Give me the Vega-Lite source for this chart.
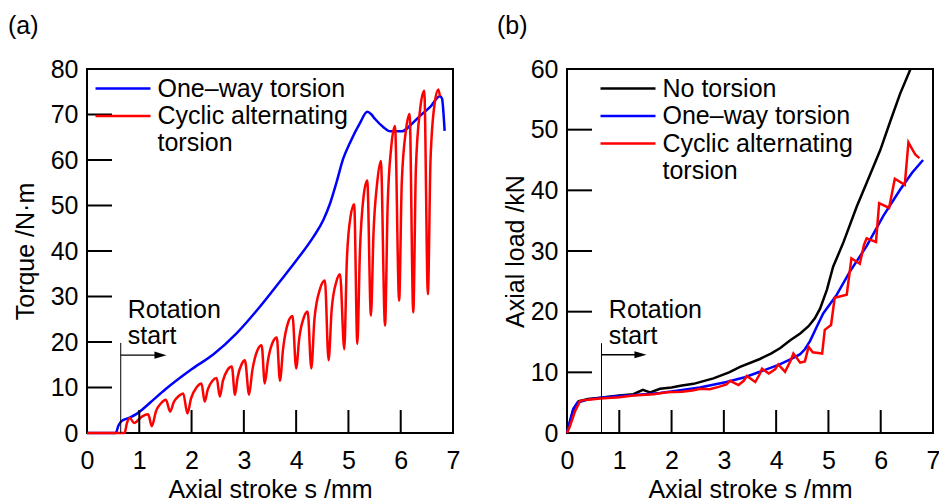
{
  "$schema": "https://vega.github.io/schema/vega-lite/v6.json",
  "background": "white",
  "padding": {"left": 7, "top": 13, "right": 0, "bottom": 0},
  "spacing": 114,
  "bounds": "flush",
  "resolve": {"scale": {"color": "independent"}, "legend": {"color": "independent"}},
  "config": {
    "font": "Liberation Sans",
    "view": {"stroke": "black", "strokeWidth": 2},
    "axis": {"domain": false, "grid": false, "ticks": false, "labelColor": "black", "titleColor": "black", "labelFontSize": 25, "titleFontSize": 25, "titleFontWeight": "normal", "labelFont": "Liberation Sans", "titleFont": "Liberation Sans", "labelFlush": false, "format": "d"},
    "axisX": {"labelPadding": 15, "titlePadding": 4},
    "axisY": {"labelPadding": 9, "titlePadding": 12},
    "legend": {"orient": "none", "labelFontSize": 25, "labelColor": "black", "labelFont": "Liberation Sans", "labelLimit": 500, "symbolType": "M-2.5,0H2.5", "symbolSize": 484, "symbolStrokeWidth": 2.5, "labelOffset": 22, "rowPadding": 1.5, "padding": 0},
    "title": {"anchor": "start", "fontSize": 25, "fontWeight": "normal", "color": "black", "font": "Liberation Sans", "frame": "group", "offset": 18}
  },
  "hconcat": [
    {
      "width": 366, "height": 364,
      "title": {"text": "(a)", "dx": -79},
      "layer": [
        {
          "data": {"values": [
            {"series": "One–way torsion", "s": 0, "T": 0},
            {"series": "One–way torsion", "s": 0.55, "T": 0},
            {"series": "One–way torsion", "s": 0.6, "T": 1.6},
            {"series": "One–way torsion", "s": 0.66, "T": 2.6},
            {"series": "One–way torsion", "s": 0.8, "T": 3.3},
            {"series": "One–way torsion", "s": 0.95, "T": 4.2},
            {"series": "One–way torsion", "s": 1.2, "T": 6.6},
            {"series": "One–way torsion", "s": 1.5, "T": 9.6},
            {"series": "One–way torsion", "s": 2.0, "T": 14.0},
            {"series": "One–way torsion", "s": 2.42, "T": 17.3},
            {"series": "One–way torsion", "s": 2.86, "T": 21.9},
            {"series": "One–way torsion", "s": 3.31, "T": 27.8},
            {"series": "One–way torsion", "s": 3.69, "T": 33.3},
            {"series": "One–way torsion", "s": 4.01, "T": 38.0},
            {"series": "One–way torsion", "s": 4.33, "T": 43.1},
            {"series": "One–way torsion", "s": 4.52, "T": 46.8},
            {"series": "One–way torsion", "s": 4.65, "T": 50.5},
            {"series": "One–way torsion", "s": 4.77, "T": 55.0},
            {"series": "One–way torsion", "s": 4.9, "T": 60.3},
            {"series": "One–way torsion", "s": 5.03, "T": 63.8},
            {"series": "One–way torsion", "s": 5.22, "T": 68.1},
            {"series": "One–way torsion", "s": 5.36, "T": 70.6},
            {"series": "One–way torsion", "s": 5.44, "T": 70.0},
            {"series": "One–way torsion", "s": 5.51, "T": 69.0},
            {"series": "One–way torsion", "s": 5.67, "T": 67.2},
            {"series": "One–way torsion", "s": 5.8, "T": 66.3},
            {"series": "One–way torsion", "s": 6.02, "T": 66.3},
            {"series": "One–way torsion", "s": 6.21, "T": 67.9},
            {"series": "One–way torsion", "s": 6.37, "T": 69.7},
            {"series": "One–way torsion", "s": 6.56, "T": 71.6},
            {"series": "One–way torsion", "s": 6.75, "T": 74.0},
            {"series": "One–way torsion", "s": 6.79, "T": 73.5},
            {"series": "One–way torsion", "s": 6.82, "T": 70.0},
            {"series": "One–way torsion", "s": 6.84, "T": 66.4},
            {"series": "Cyclic alternating torsion", "s": 0, "T": 0},
            {"series": "Cyclic alternating torsion", "s": 0.72, "T": 0},
            {"series": "Cyclic alternating torsion", "s": 0.76, "T": 2.0},
            {"series": "Cyclic alternating torsion", "s": 0.82, "T": 3.3},
            {"series": "Cyclic alternating torsion", "s": 0.9, "T": 2.2},
            {"series": "Cyclic alternating torsion", "s": 1.05, "T": 3.6},
            {"series": "Cyclic alternating torsion", "s": 1.17, "T": 4.1},
            {"series": "Cyclic alternating torsion", "s": 1.24, "T": 1.5},
            {"series": "Cyclic alternating torsion", "s": 1.32, "T": 4.8},
            {"series": "Cyclic alternating torsion", "s": 1.42, "T": 6.6},
            {"series": "Cyclic alternating torsion", "s": 1.51, "T": 7.3},
            {"series": "Cyclic alternating torsion", "s": 1.59, "T": 4.7},
            {"series": "Cyclic alternating torsion", "s": 1.66, "T": 6.8},
            {"series": "Cyclic alternating torsion", "s": 1.76, "T": 8.2},
            {"series": "Cyclic alternating torsion", "s": 1.84, "T": 8.7},
            {"series": "Cyclic alternating torsion", "s": 1.92, "T": 4.3},
            {"series": "Cyclic alternating torsion", "s": 1.99, "T": 7.6},
            {"series": "Cyclic alternating torsion", "s": 2.1, "T": 10.1},
            {"series": "Cyclic alternating torsion", "s": 2.19, "T": 10.9},
            {"series": "Cyclic alternating torsion", "s": 2.25, "T": 6.9},
            {"series": "Cyclic alternating torsion", "s": 2.31, "T": 9.6},
            {"series": "Cyclic alternating torsion", "s": 2.4, "T": 11.5},
            {"series": "Cyclic alternating torsion", "s": 2.48, "T": 12.1},
            {"series": "Cyclic alternating torsion", "s": 2.54, "T": 8.0},
            {"series": "Cyclic alternating torsion", "s": 2.6, "T": 11.5},
            {"series": "Cyclic alternating torsion", "s": 2.69, "T": 13.9},
            {"series": "Cyclic alternating torsion", "s": 2.77, "T": 14.6},
            {"series": "Cyclic alternating torsion", "s": 2.83, "T": 8.4},
            {"series": "Cyclic alternating torsion", "s": 2.88, "T": 12.2},
            {"series": "Cyclic alternating torsion", "s": 2.96, "T": 15.2},
            {"series": "Cyclic alternating torsion", "s": 3.02, "T": 16.0},
            {"series": "Cyclic alternating torsion", "s": 3.1, "T": 8.4},
            {"series": "Cyclic alternating torsion", "s": 3.16, "T": 13.6},
            {"series": "Cyclic alternating torsion", "s": 3.26, "T": 18.2},
            {"series": "Cyclic alternating torsion", "s": 3.34, "T": 19.3},
            {"series": "Cyclic alternating torsion", "s": 3.4, "T": 10.9},
            {"series": "Cyclic alternating torsion", "s": 3.46, "T": 15.9},
            {"series": "Cyclic alternating torsion", "s": 3.55, "T": 19.9},
            {"series": "Cyclic alternating torsion", "s": 3.63, "T": 21.0},
            {"series": "Cyclic alternating torsion", "s": 3.69, "T": 11.5},
            {"series": "Cyclic alternating torsion", "s": 3.75, "T": 18.5},
            {"series": "Cyclic alternating torsion", "s": 3.85, "T": 24.4},
            {"series": "Cyclic alternating torsion", "s": 3.93, "T": 25.7},
            {"series": "Cyclic alternating torsion", "s": 4.0, "T": 14.2},
            {"series": "Cyclic alternating torsion", "s": 4.06, "T": 20.9},
            {"series": "Cyclic alternating torsion", "s": 4.15, "T": 25.5},
            {"series": "Cyclic alternating torsion", "s": 4.22, "T": 26.7},
            {"series": "Cyclic alternating torsion", "s": 4.29, "T": 14.2},
            {"series": "Cyclic alternating torsion", "s": 4.35, "T": 25.0},
            {"series": "Cyclic alternating torsion", "s": 4.46, "T": 31.8},
            {"series": "Cyclic alternating torsion", "s": 4.55, "T": 33.5},
            {"series": "Cyclic alternating torsion", "s": 4.62, "T": 16.0},
            {"series": "Cyclic alternating torsion", "s": 4.68, "T": 27.2},
            {"series": "Cyclic alternating torsion", "s": 4.77, "T": 33.3},
            {"series": "Cyclic alternating torsion", "s": 4.84, "T": 34.9},
            {"series": "Cyclic alternating torsion", "s": 4.92, "T": 18.4},
            {"series": "Cyclic alternating torsion", "s": 4.97, "T": 38.0},
            {"series": "Cyclic alternating torsion", "s": 5.04, "T": 47.5},
            {"series": "Cyclic alternating torsion", "s": 5.11, "T": 50.3},
            {"series": "Cyclic alternating torsion", "s": 5.17, "T": 19.6},
            {"series": "Cyclic alternating torsion", "s": 5.22, "T": 40.0},
            {"series": "Cyclic alternating torsion", "s": 5.29, "T": 52.0},
            {"series": "Cyclic alternating torsion", "s": 5.36, "T": 55.5},
            {"series": "Cyclic alternating torsion", "s": 5.43, "T": 25.8},
            {"series": "Cyclic alternating torsion", "s": 5.48, "T": 44.0},
            {"series": "Cyclic alternating torsion", "s": 5.55, "T": 55.0},
            {"series": "Cyclic alternating torsion", "s": 5.62, "T": 59.8},
            {"series": "Cyclic alternating torsion", "s": 5.7, "T": 23.6},
            {"series": "Cyclic alternating torsion", "s": 5.75, "T": 50.0},
            {"series": "Cyclic alternating torsion", "s": 5.82, "T": 63.0},
            {"series": "Cyclic alternating torsion", "s": 5.89, "T": 67.5},
            {"series": "Cyclic alternating torsion", "s": 5.97, "T": 29.1},
            {"series": "Cyclic alternating torsion", "s": 6.02, "T": 55.0},
            {"series": "Cyclic alternating torsion", "s": 6.1, "T": 66.5},
            {"series": "Cyclic alternating torsion", "s": 6.17, "T": 70.1},
            {"series": "Cyclic alternating torsion", "s": 6.24, "T": 26.5},
            {"series": "Cyclic alternating torsion", "s": 6.29, "T": 58.0},
            {"series": "Cyclic alternating torsion", "s": 6.37, "T": 71.0},
            {"series": "Cyclic alternating torsion", "s": 6.45, "T": 75.2},
            {"series": "Cyclic alternating torsion", "s": 6.52, "T": 30.5},
            {"series": "Cyclic alternating torsion", "s": 6.57, "T": 60.0},
            {"series": "Cyclic alternating torsion", "s": 6.65, "T": 72.5},
            {"series": "Cyclic alternating torsion", "s": 6.72, "T": 75.5},
            {"series": "Cyclic alternating torsion", "s": 6.75, "T": 74.0}
          ]},
          "mark": {"type": "line", "strokeWidth": 2.5, "interpolate": "monotone"},
          "encoding": {
            "x": {"field": "s", "type": "quantitative", "scale": {"domain": [0, 7], "nice": false}, "axis": {"values": [0, 1, 2, 3, 4, 5, 6, 7], "title": "Axial stroke s /mm"}},
            "y": {"field": "T", "type": "quantitative", "scale": {"domain": [0, 80], "nice": false}, "axis": {"values": [0, 10, 20, 30, 40, 50, 60, 70, 80], "title": "Torque /N·m"}},
            "color": {"field": "series", "type": "nominal", "sort": null,
              "scale": {"domain": ["One–way torsion", "Cyclic alternating torsion"], "range": ["#0000ff", "#ff0000"]},
              "legend": {"title": null, "legendX": 23.5, "legendY": 7,
                "labelExpr": "datum.label == 'Cyclic alternating torsion' ? ['Cyclic alternating', 'torsion'] : datum.label"}}
          }
        },
        {"data": {"values": [{}]}, "mark": {"type": "rule", "color": "black", "strokeWidth": 2}, "encoding": {"x": {"datum": 1}, "y": {"datum": 0}, "y2": {"datum": 5.05}}},
        {"data": {"values": [{}]}, "mark": {"type": "rule", "color": "black", "strokeWidth": 2}, "encoding": {"x": {"datum": 2}, "y": {"datum": 0}, "y2": {"datum": 5.05}}},
        {"data": {"values": [{}]}, "mark": {"type": "rule", "color": "black", "strokeWidth": 2}, "encoding": {"x": {"datum": 3}, "y": {"datum": 0}, "y2": {"datum": 5.05}}},
        {"data": {"values": [{}]}, "mark": {"type": "rule", "color": "black", "strokeWidth": 2}, "encoding": {"x": {"datum": 4}, "y": {"datum": 0}, "y2": {"datum": 5.05}}},
        {"data": {"values": [{}]}, "mark": {"type": "rule", "color": "black", "strokeWidth": 2}, "encoding": {"x": {"datum": 5}, "y": {"datum": 0}, "y2": {"datum": 5.05}}},
        {"data": {"values": [{}]}, "mark": {"type": "rule", "color": "black", "strokeWidth": 2}, "encoding": {"x": {"datum": 6}, "y": {"datum": 0}, "y2": {"datum": 5.05}}},
        {"data": {"values": [{}]}, "mark": {"type": "rule", "color": "black", "strokeWidth": 2}, "encoding": {"y": {"datum": 10}, "x": {"datum": 0}, "x2": {"datum": 0.478}}},
        {"data": {"values": [{}]}, "mark": {"type": "rule", "color": "black", "strokeWidth": 2}, "encoding": {"y": {"datum": 20}, "x": {"datum": 0}, "x2": {"datum": 0.478}}},
        {"data": {"values": [{}]}, "mark": {"type": "rule", "color": "black", "strokeWidth": 2}, "encoding": {"y": {"datum": 30}, "x": {"datum": 0}, "x2": {"datum": 0.478}}},
        {"data": {"values": [{}]}, "mark": {"type": "rule", "color": "black", "strokeWidth": 2}, "encoding": {"y": {"datum": 40}, "x": {"datum": 0}, "x2": {"datum": 0.478}}},
        {"data": {"values": [{}]}, "mark": {"type": "rule", "color": "black", "strokeWidth": 2}, "encoding": {"y": {"datum": 50}, "x": {"datum": 0}, "x2": {"datum": 0.478}}},
        {"data": {"values": [{}]}, "mark": {"type": "rule", "color": "black", "strokeWidth": 2}, "encoding": {"y": {"datum": 60}, "x": {"datum": 0}, "x2": {"datum": 0.478}}},
        {"data": {"values": [{}]}, "mark": {"type": "rule", "color": "black", "strokeWidth": 2}, "encoding": {"y": {"datum": 70}, "x": {"datum": 0}, "x2": {"datum": 0.478}}},
        {
          "data": {"values": [{}]},
          "mark": {"type": "rule", "color": "black", "strokeWidth": 1},
          "encoding": {"x": {"datum": 0.645}, "y": {"datum": 0}, "y2": {"datum": 19.8}}
        },
        {
          "data": {"values": [{}]},
          "mark": {"type": "rule", "color": "black", "strokeWidth": 1.3},
          "encoding": {"x": {"datum": 0.645}, "x2": {"datum": 1.41}, "y": {"datum": 17.1}}
        },
        {
          "data": {"values": [{}]},
          "mark": {"type": "point", "shape": "M1,0L-1,-0.6L-1,0.6Z", "filled": true, "color": "black", "opacity": 1, "size": 144},
          "encoding": {"x": {"datum": 1.405}, "y": {"datum": 17.1}}
        },
        {
          "data": {"values": [{}]},
          "mark": {"type": "text", "text": ["Rotation", "start"], "align": "left", "baseline": "middle", "fontSize": 25, "lineHeight": 26, "color": "black"},
          "encoding": {"x": {"datum": 0.78}, "y": {"datum": 27.0}}
        }
      ]
    },
    {
      "width": 366, "height": 364,
      "title": {"text": "(b)", "dx": -70},
      "layer": [
        {
          "data": {"values": [
            {"series": "No torsion", "s": 0, "F": 0},
            {"series": "No torsion", "s": 0.05, "F": 1.5},
            {"series": "No torsion", "s": 0.12, "F": 3.8},
            {"series": "No torsion", "s": 0.22, "F": 5.2},
            {"series": "No torsion", "s": 0.4, "F": 5.6},
            {"series": "No torsion", "s": 0.64, "F": 5.8},
            {"series": "No torsion", "s": 1.0, "F": 6.2},
            {"series": "No torsion", "s": 1.27, "F": 6.4},
            {"series": "No torsion", "s": 1.45, "F": 7.1},
            {"series": "No torsion", "s": 1.59, "F": 6.7},
            {"series": "No torsion", "s": 1.78, "F": 7.3},
            {"series": "No torsion", "s": 2.0, "F": 7.5},
            {"series": "No torsion", "s": 2.17, "F": 7.8},
            {"series": "No torsion", "s": 2.42, "F": 8.1},
            {"series": "No torsion", "s": 2.8, "F": 9.0},
            {"series": "No torsion", "s": 3.1, "F": 10.0},
            {"series": "No torsion", "s": 3.31, "F": 10.9},
            {"series": "No torsion", "s": 3.69, "F": 12.2},
            {"series": "No torsion", "s": 3.9, "F": 13.1},
            {"series": "No torsion", "s": 4.08, "F": 14.0},
            {"series": "No torsion", "s": 4.27, "F": 15.3},
            {"series": "No torsion", "s": 4.46, "F": 16.4},
            {"series": "No torsion", "s": 4.62, "F": 17.6},
            {"series": "No torsion", "s": 4.74, "F": 18.9},
            {"series": "No torsion", "s": 4.84, "F": 20.5},
            {"series": "No torsion", "s": 4.97, "F": 23.6},
            {"series": "No torsion", "s": 5.09, "F": 27.4},
            {"series": "No torsion", "s": 5.29, "F": 31.5},
            {"series": "No torsion", "s": 5.54, "F": 37.3},
            {"series": "No torsion", "s": 5.73, "F": 41.2},
            {"series": "No torsion", "s": 5.99, "F": 46.6},
            {"series": "No torsion", "s": 6.18, "F": 51.3},
            {"series": "No torsion", "s": 6.37, "F": 55.9},
            {"series": "No torsion", "s": 6.57, "F": 60.0},
            {"series": "One–way torsion", "s": 0, "F": 0},
            {"series": "One–way torsion", "s": 0.05, "F": 1.8},
            {"series": "One–way torsion", "s": 0.12, "F": 4.0},
            {"series": "One–way torsion", "s": 0.2, "F": 5.0},
            {"series": "One–way torsion", "s": 0.4, "F": 5.5},
            {"series": "One–way torsion", "s": 0.64, "F": 5.8},
            {"series": "One–way torsion", "s": 1.0, "F": 6.1},
            {"series": "One–way torsion", "s": 1.5, "F": 6.4},
            {"series": "One–way torsion", "s": 1.78, "F": 6.6},
            {"series": "One–way torsion", "s": 2.2, "F": 7.1},
            {"series": "One–way torsion", "s": 2.54, "F": 7.5},
            {"series": "One–way torsion", "s": 3.05, "F": 8.4},
            {"series": "One–way torsion", "s": 3.4, "F": 9.2},
            {"series": "One–way torsion", "s": 3.69, "F": 10.1},
            {"series": "One–way torsion", "s": 4.07, "F": 11.3},
            {"series": "One–way torsion", "s": 4.33, "F": 12.4},
            {"series": "One–way torsion", "s": 4.46, "F": 13.0},
            {"series": "One–way torsion", "s": 4.55, "F": 13.8},
            {"series": "One–way torsion", "s": 4.65, "F": 15.2},
            {"series": "One–way torsion", "s": 4.77, "F": 17.4},
            {"series": "One–way torsion", "s": 4.9, "F": 19.7},
            {"series": "One–way torsion", "s": 5.16, "F": 22.8},
            {"series": "One–way torsion", "s": 5.41, "F": 26.6},
            {"series": "One–way torsion", "s": 5.73, "F": 30.8},
            {"series": "One–way torsion", "s": 6.05, "F": 35.8},
            {"series": "One–way torsion", "s": 6.37, "F": 40.1},
            {"series": "One–way torsion", "s": 6.6, "F": 42.9},
            {"series": "One–way torsion", "s": 6.81, "F": 45.0},
            {"series": "Cyclic alternating torsion", "s": 0, "F": 0},
            {"series": "Cyclic alternating torsion", "s": 0.05, "F": 1.0},
            {"series": "Cyclic alternating torsion", "s": 0.15, "F": 3.5},
            {"series": "Cyclic alternating torsion", "s": 0.25, "F": 5.3},
            {"series": "Cyclic alternating torsion", "s": 0.4, "F": 5.5},
            {"series": "Cyclic alternating torsion", "s": 0.64, "F": 5.7},
            {"series": "Cyclic alternating torsion", "s": 1.0, "F": 5.9},
            {"series": "Cyclic alternating torsion", "s": 1.27, "F": 6.2},
            {"series": "Cyclic alternating torsion", "s": 1.66, "F": 6.4},
            {"series": "Cyclic alternating torsion", "s": 1.91, "F": 6.7},
            {"series": "Cyclic alternating torsion", "s": 2.2, "F": 6.8},
            {"series": "Cyclic alternating torsion", "s": 2.4, "F": 7.0},
            {"series": "Cyclic alternating torsion", "s": 2.55, "F": 7.3},
            {"series": "Cyclic alternating torsion", "s": 2.73, "F": 7.2},
            {"series": "Cyclic alternating torsion", "s": 2.9, "F": 7.6},
            {"series": "Cyclic alternating torsion", "s": 3.05, "F": 8.0},
            {"series": "Cyclic alternating torsion", "s": 3.12, "F": 8.6},
            {"series": "Cyclic alternating torsion", "s": 3.28, "F": 7.9},
            {"series": "Cyclic alternating torsion", "s": 3.38, "F": 8.6},
            {"series": "Cyclic alternating torsion", "s": 3.44, "F": 9.4},
            {"series": "Cyclic alternating torsion", "s": 3.6, "F": 8.4},
            {"series": "Cyclic alternating torsion", "s": 3.68, "F": 9.6},
            {"series": "Cyclic alternating torsion", "s": 3.73, "F": 10.6},
            {"series": "Cyclic alternating torsion", "s": 3.86, "F": 9.8},
            {"series": "Cyclic alternating torsion", "s": 3.98, "F": 10.5},
            {"series": "Cyclic alternating torsion", "s": 4.04, "F": 11.3},
            {"series": "Cyclic alternating torsion", "s": 4.17, "F": 10.1},
            {"series": "Cyclic alternating torsion", "s": 4.28, "F": 12.0},
            {"series": "Cyclic alternating torsion", "s": 4.33, "F": 13.1},
            {"series": "Cyclic alternating torsion", "s": 4.46, "F": 11.6},
            {"series": "Cyclic alternating torsion", "s": 4.55, "F": 11.8},
            {"series": "Cyclic alternating torsion", "s": 4.62, "F": 14.2},
            {"series": "Cyclic alternating torsion", "s": 4.7, "F": 13.3},
            {"series": "Cyclic alternating torsion", "s": 4.88, "F": 13.1},
            {"series": "Cyclic alternating torsion", "s": 4.93, "F": 17.0},
            {"series": "Cyclic alternating torsion", "s": 5.05, "F": 17.8},
            {"series": "Cyclic alternating torsion", "s": 5.12, "F": 22.3},
            {"series": "Cyclic alternating torsion", "s": 5.35, "F": 22.8},
            {"series": "Cyclic alternating torsion", "s": 5.44, "F": 28.8},
            {"series": "Cyclic alternating torsion", "s": 5.6, "F": 27.9},
            {"series": "Cyclic alternating torsion", "s": 5.68, "F": 31.0},
            {"series": "Cyclic alternating torsion", "s": 5.73, "F": 32.1},
            {"series": "Cyclic alternating torsion", "s": 5.91, "F": 31.5},
            {"series": "Cyclic alternating torsion", "s": 5.97, "F": 37.9},
            {"series": "Cyclic alternating torsion", "s": 6.16, "F": 37.1},
            {"series": "Cyclic alternating torsion", "s": 6.27, "F": 41.9},
            {"series": "Cyclic alternating torsion", "s": 6.46, "F": 40.9},
            {"series": "Cyclic alternating torsion", "s": 6.53, "F": 47.9},
            {"series": "Cyclic alternating torsion", "s": 6.66, "F": 45.9},
            {"series": "Cyclic alternating torsion", "s": 6.74, "F": 45.3}
          ]},
          "mark": {"type": "line", "strokeWidth": 2.5},
          "encoding": {
            "x": {"field": "s", "type": "quantitative", "scale": {"domain": [0, 7], "nice": false}, "axis": {"values": [0, 1, 2, 3, 4, 5, 6, 7], "title": "Axial stroke s /mm"}},
            "y": {"field": "F", "type": "quantitative", "scale": {"domain": [0, 60], "nice": false}, "axis": {"values": [0, 10, 20, 30, 40, 50, 60], "titlePadding": 2, "title": "Axial load /kN"}},
            "color": {"field": "series", "type": "nominal", "sort": null,
              "scale": {"domain": ["No torsion", "One–way torsion", "Cyclic alternating torsion"], "range": ["#000000", "#0000ff", "#ff0000"]},
              "legend": {"title": null, "legendX": 48.5, "legendY": 7,
                "labelExpr": "datum.label == 'Cyclic alternating torsion' ? ['Cyclic alternating', 'torsion'] : datum.label"}}
          }
        },
        {
          "data": {"values": [{"v": 1}, {"v": 2}, {"v": 3}, {"v": 4}, {"v": 5}, {"v": 6}]},
          "mark": {"type": "rule", "color": "black", "strokeWidth": 2},
          "encoding": {"x": {"field": "v", "type": "quantitative"}, "y": {"datum": 0}, "y2": {"datum": 3.79}}
        },
        {
          "data": {"values": [{"v": 10}, {"v": 20}, {"v": 30}, {"v": 40}, {"v": 50}]},
          "mark": {"type": "rule", "color": "black", "strokeWidth": 2},
          "encoding": {"y": {"field": "v", "type": "quantitative"}, "x": {"datum": 0}, "x2": {"datum": 0.478}}
        },
        {
          "data": {"values": [{}]},
          "mark": {"type": "rule", "color": "black", "strokeWidth": 1},
          "encoding": {"x": {"datum": 0.66}, "y": {"datum": 0}, "y2": {"datum": 14.8}}
        },
        {
          "data": {"values": [{}]},
          "mark": {"type": "rule", "color": "black", "strokeWidth": 1.3},
          "encoding": {"x": {"datum": 0.66}, "x2": {"datum": 1.41}, "y": {"datum": 12.9}}
        },
        {
          "data": {"values": [{}]},
          "mark": {"type": "point", "shape": "M1,0L-1,-0.6L-1,0.6Z", "filled": true, "color": "black", "opacity": 1, "size": 144},
          "encoding": {"x": {"datum": 1.405}, "y": {"datum": 12.9}}
        },
        {
          "data": {"values": [{}]},
          "mark": {"type": "text", "text": ["Rotation", "start"], "align": "left", "baseline": "middle", "fontSize": 25, "lineHeight": 26, "color": "black"},
          "encoding": {"x": {"datum": 0.8}, "y": {"datum": 20.3}}
        }
      ]
    }
  ]
}
